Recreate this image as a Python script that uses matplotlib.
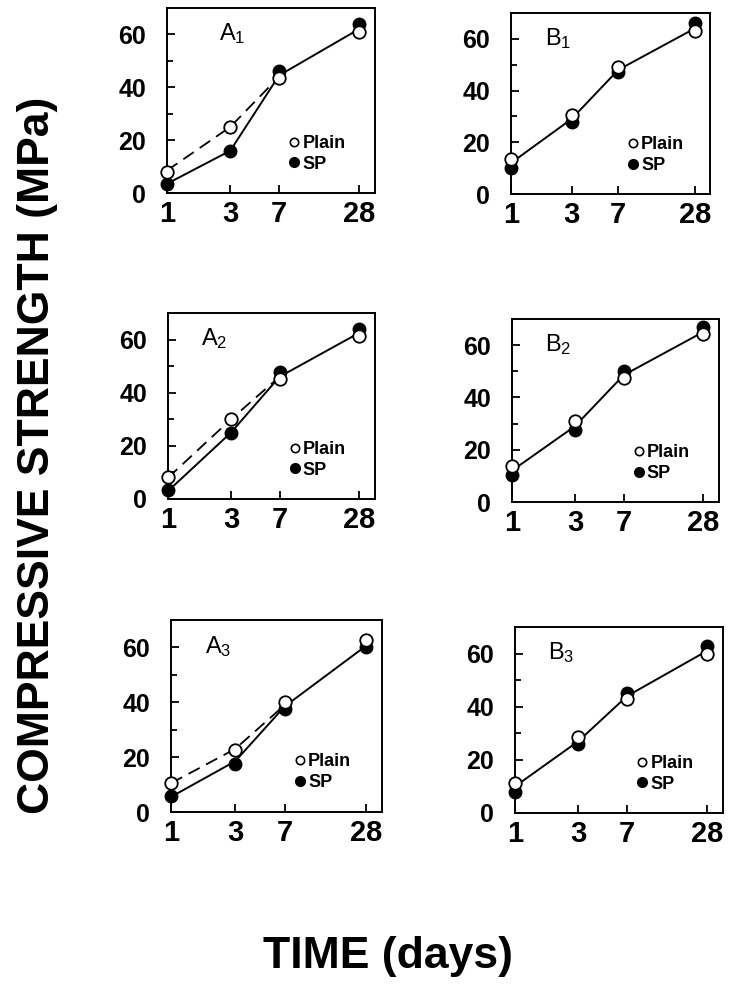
import matplotlib
matplotlib.use("Agg")
import matplotlib.pyplot as plt
from matplotlib.lines import Line2D
from matplotlib.ticker import FixedLocator, NullLocator, FixedFormatter

# ----------------------------------------------------
# DATA
# ----------------------------------------------------
days = [1, 3, 7, 28]
day_labels = ["1", "3", "7", "28"]

panels = ["A1", "A2", "A3", "B1", "B2", "B3"]

plain = {
    "A1": [8.0, 25.0, 43.5, 61.0],
    "A2": [8.3, 30.0, 45.0, 61.4],
    "A3": [10.7, 22.5, 40.0, 62.8],
    "B1": [13.5, 30.7, 49.0, 63.0],
    "B2": [13.8, 31.0, 47.5, 64.3],
    "B3": [11.2, 28.5, 43.0, 60.0],
}
sp = {
    "A1": [3.5, 16.0, 46.0, 64.0],
    "A2": [3.5, 25.0, 47.8, 64.0],
    "A3": [6.0, 17.5, 37.7, 60.0],
    "B1": [10.0, 27.7, 47.0, 66.0],
    "B2": [10.3, 27.7, 50.0, 67.0],
    "B3": [8.0, 25.8, 45.2, 63.0],
}
# drawn curves (solid = common / SP fit, dashed = plain fit up to 7 days)
solid_curve = {
    "A1": [3.5, 16.0, 44.5, 62.0],
    "A2": [3.0, 25.0, 46.0, 62.5],
    "A3": [5.5, 18.5, 38.5, 60.5],
    "B1": [12.0, 29.0, 48.0, 64.0],
    "B2": [12.0, 29.0, 48.5, 65.0],
    "B3": [10.0, 27.0, 44.0, 61.0],
}
dashed_days = [1, 3, 7]
dashed_curve = {
    "A1": [8.5, 25.0, 44.0],
    "A2": [8.0, 30.0, 46.0],
    "A3": [10.5, 23.0, 39.0],
}

# ----------------------------------------------------
# LAYOUT (pixel boxes: left, top, right, bottom)
# ----------------------------------------------------
W, H = 732, 1000
boxes = {
    "A1": (167, 8, 375, 193),
    "A2": (168, 313, 375, 499),
    "A3": (171, 620, 382, 812),
    "B1": (511, 13, 710, 194),
    "B2": (512, 319, 719, 502),
    "B3": (515, 627, 723, 813),
}
label_x = {"A1": 0.25, "A2": 0.16, "A3": 0.16, "B1": 0.17, "B2": 0.16, "B3": 0.16}

plt.rcParams["font.family"] = ["Liberation Sans", "DejaVu Sans"]
plt.rcParams["mathtext.fontset"] = "custom"
plt.rcParams["mathtext.rm"] = "Liberation Sans"
plt.rcParams["mathtext.it"] = "Liberation Sans"
plt.rcParams["mathtext.bf"] = "Liberation Sans:bold"


def rect(box):
    l, t, r, b = box
    return [l / W, 1 - b / H, (r - l) / W, (b - t) / H]


fig = plt.figure(figsize=(W / 100, H / 100), dpi=100)

for name in panels:
    ax = fig.add_axes(rect(boxes[name]))
    ax.set_xscale("log")
    ax.set_xlim(1, 37)
    ax.set_ylim(0, 70)

    ax.plot(days, solid_curve[name], color="black", lw=1.4, solid_capstyle="round")
    if name in dashed_curve:
        ax.plot(dashed_days, dashed_curve[name], color="black", lw=1.3,
                dashes=(7, 4))

    ax.plot(days, sp[name], "o", color="black", ms=9, clip_on=False, zorder=3)
    ax.plot(days, plain[name], "o", mfc="white", mec="black", mew=1.3, ms=9,
            clip_on=False, zorder=4)

    # axes styling
    for s in ax.spines.values():
        s.set_linewidth(1.4)
    ax.xaxis.set_major_locator(FixedLocator(days))
    ax.xaxis.set_major_formatter(FixedFormatter(day_labels))
    ax.xaxis.set_minor_locator(NullLocator())
    ax.set_yticks([0, 20, 40, 60])
    ax.set_yticks([10, 30, 50], minor=True)
    ax.tick_params(axis="both", which="both", direction="in", width=1.3)
    ax.tick_params(axis="y", which="major", length=6, pad=15, labelsize=18)
    ax.tick_params(axis="y", which="minor", length=4)
    ax.tick_params(axis="x", which="major", length=6, pad=5, labelsize=21)
    for lab in ax.get_xticklabels() + ax.get_yticklabels():
        lab.set_fontweight("bold")

    # panel label
    ax.text(label_x[name], 0.86, name[0] + r"$_{" + name[1] + "}$",
            transform=ax.transAxes, fontsize=17, va="center", ha="left")

    # legend
    handles = [
        Line2D([0], [0], marker="o", ls="none", mfc="white", mec="black",
               mew=1.2, ms=6, label="Plain"),
        Line2D([0], [0], marker="o", ls="none", color="black", ms=7,
               label="SP"),
    ]
    ax.legend(handles=handles, loc="lower left", bbox_to_anchor=(0.59, 0.11),
              frameon=False, handlelength=0.5, handletextpad=0.2,
              labelspacing=0.2, borderpad=0, borderaxespad=0,
              prop={"weight": "bold", "size": 13})

# common axis titles
fig.text(38 / W, 1 - 455 / H, "COMPRESSIVE STRENGTH (MPa)", rotation=90,
         ha="center", va="center", fontsize=32, fontweight="bold")
fig.text(388 / W, 1 - 968 / H, "TIME (days)", ha="center", va="baseline",
         fontsize=32, fontweight="bold")

fig.savefig("out.png", dpi=100)
plt.close(fig)
